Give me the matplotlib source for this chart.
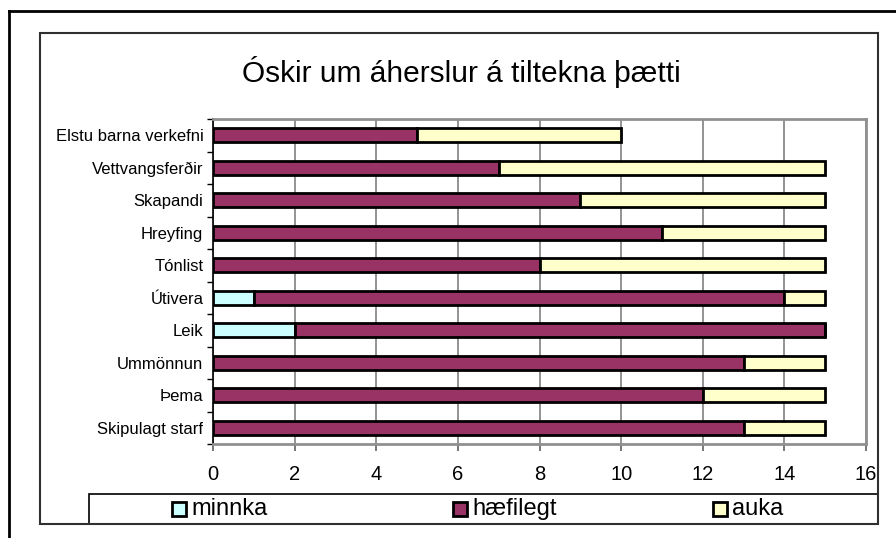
import matplotlib.pyplot as plt
from matplotlib.lines import Line2D
from matplotlib.patches import Rectangle

plt.rcParams['font.family'] = ['Liberation Sans', 'DejaVu Sans']

categories = ['Skipulagt starf', 'Þema', 'Ummönnun', 'Leik', 'Útivera',
              'Tónlist', 'Hreyfing', 'Skapandi', 'Vettvangsferðir',
              'Elstu barna verkefni']
minnka = [0, 0, 0, 2, 1, 0, 0, 0, 0, 0]
haefilegt = [13, 12, 13, 13, 13, 8, 11, 9, 7, 5]
auka = [2, 3, 2, 0, 1, 7, 4, 6, 8, 5]
series_names = ['minnka', 'hæfilegt', 'auka']
colors = ['#CCFFFF', '#993366', '#FFFFCC']

W, H = 896, 538
fig = plt.figure(figsize=(W / 100, H / 100), dpi=100)

# plot area in pixels: x 213..866, y 119..444
ax = fig.add_axes([213 / W, 1 - 444 / H, (866 - 213) / W, (444 - 119) / H])

y = list(range(len(categories)))
left = [0] * len(categories)
for vals, name, c in zip([minnka, haefilegt, auka], series_names, colors):
    ax.barh(y, vals, left=left, height=0.43, color=c, edgecolor='black',
            linewidth=2, label=name, zorder=3)
    left = [a + b for a, b in zip(left, vals)]

ax.set_xlim(0, 16)
ax.set_ylim(-0.5, len(categories) - 0.5)
ax.set_xticks(range(0, 17, 2))
ax.set_yticks(y)
ax.set_yticklabels(categories, fontsize=12)
ax.set_yticks([i - 0.5 for i in range(len(categories) + 1)], minor=True)
ax.tick_params(axis='y', which='major', length=0, pad=7)
ax.tick_params(axis='y', which='minor', length=4, direction='out', width=1)
ax.tick_params(axis='x', length=5, direction='out', labelsize=14.5, pad=10,
               color='#606060', width=1.2)
ax.grid(axis='x', color='#808080', linewidth=1.2, zorder=0)
for s in ['top', 'right', 'bottom']:
    ax.spines[s].set_color('#909090')
    ax.spines[s].set_linewidth(2)
ax.spines['left'].set_color('black')
ax.spines['left'].set_linewidth(1.2)

fig.text(461 / W, 1 - 72 / H, 'Óskir um áherslur á tiltekna þætti',
         ha='center', va='center', fontsize=21.5)

# legend box drawn like the spreadsheet one
fig.add_artist(Rectangle((89 / W, 1 - 524 / H), (878 - 89) / W, 30 / H,
                         transform=fig.transFigure, fill=False,
                         edgecolor='black', lw=1.2))
for name, c, hx in zip(series_names, colors, [172, 453, 713]):
    fig.add_artist(Rectangle((hx / W, 1 - 516 / H), 14 / W, 14 / H,
                             transform=fig.transFigure, facecolor=c,
                             edgecolor='black', lw=2))
    fig.text((hx + 19) / W, 1 - 509 / H, name, ha='left', va='center',
             fontsize=17)

# frames
def px_line(x0, y0, x1, y1, lw, color='black'):
    fig.add_artist(Line2D([x0 / W, x1 / W], [1 - y0 / H, 1 - y1 / H],
                          transform=fig.transFigure, color=color, lw=lw))

px_line(9, 11, W, 11, 2)
px_line(9, 11, 9, H, 2)
fig.add_artist(Rectangle((40 / W, 1 - 524 / H), (878 - 40) / W, (524 - 33) / H,
                         transform=fig.transFigure, fill=False,
                         edgecolor='#303030', lw=1.5))

fig.savefig('out.png', dpi=100)
